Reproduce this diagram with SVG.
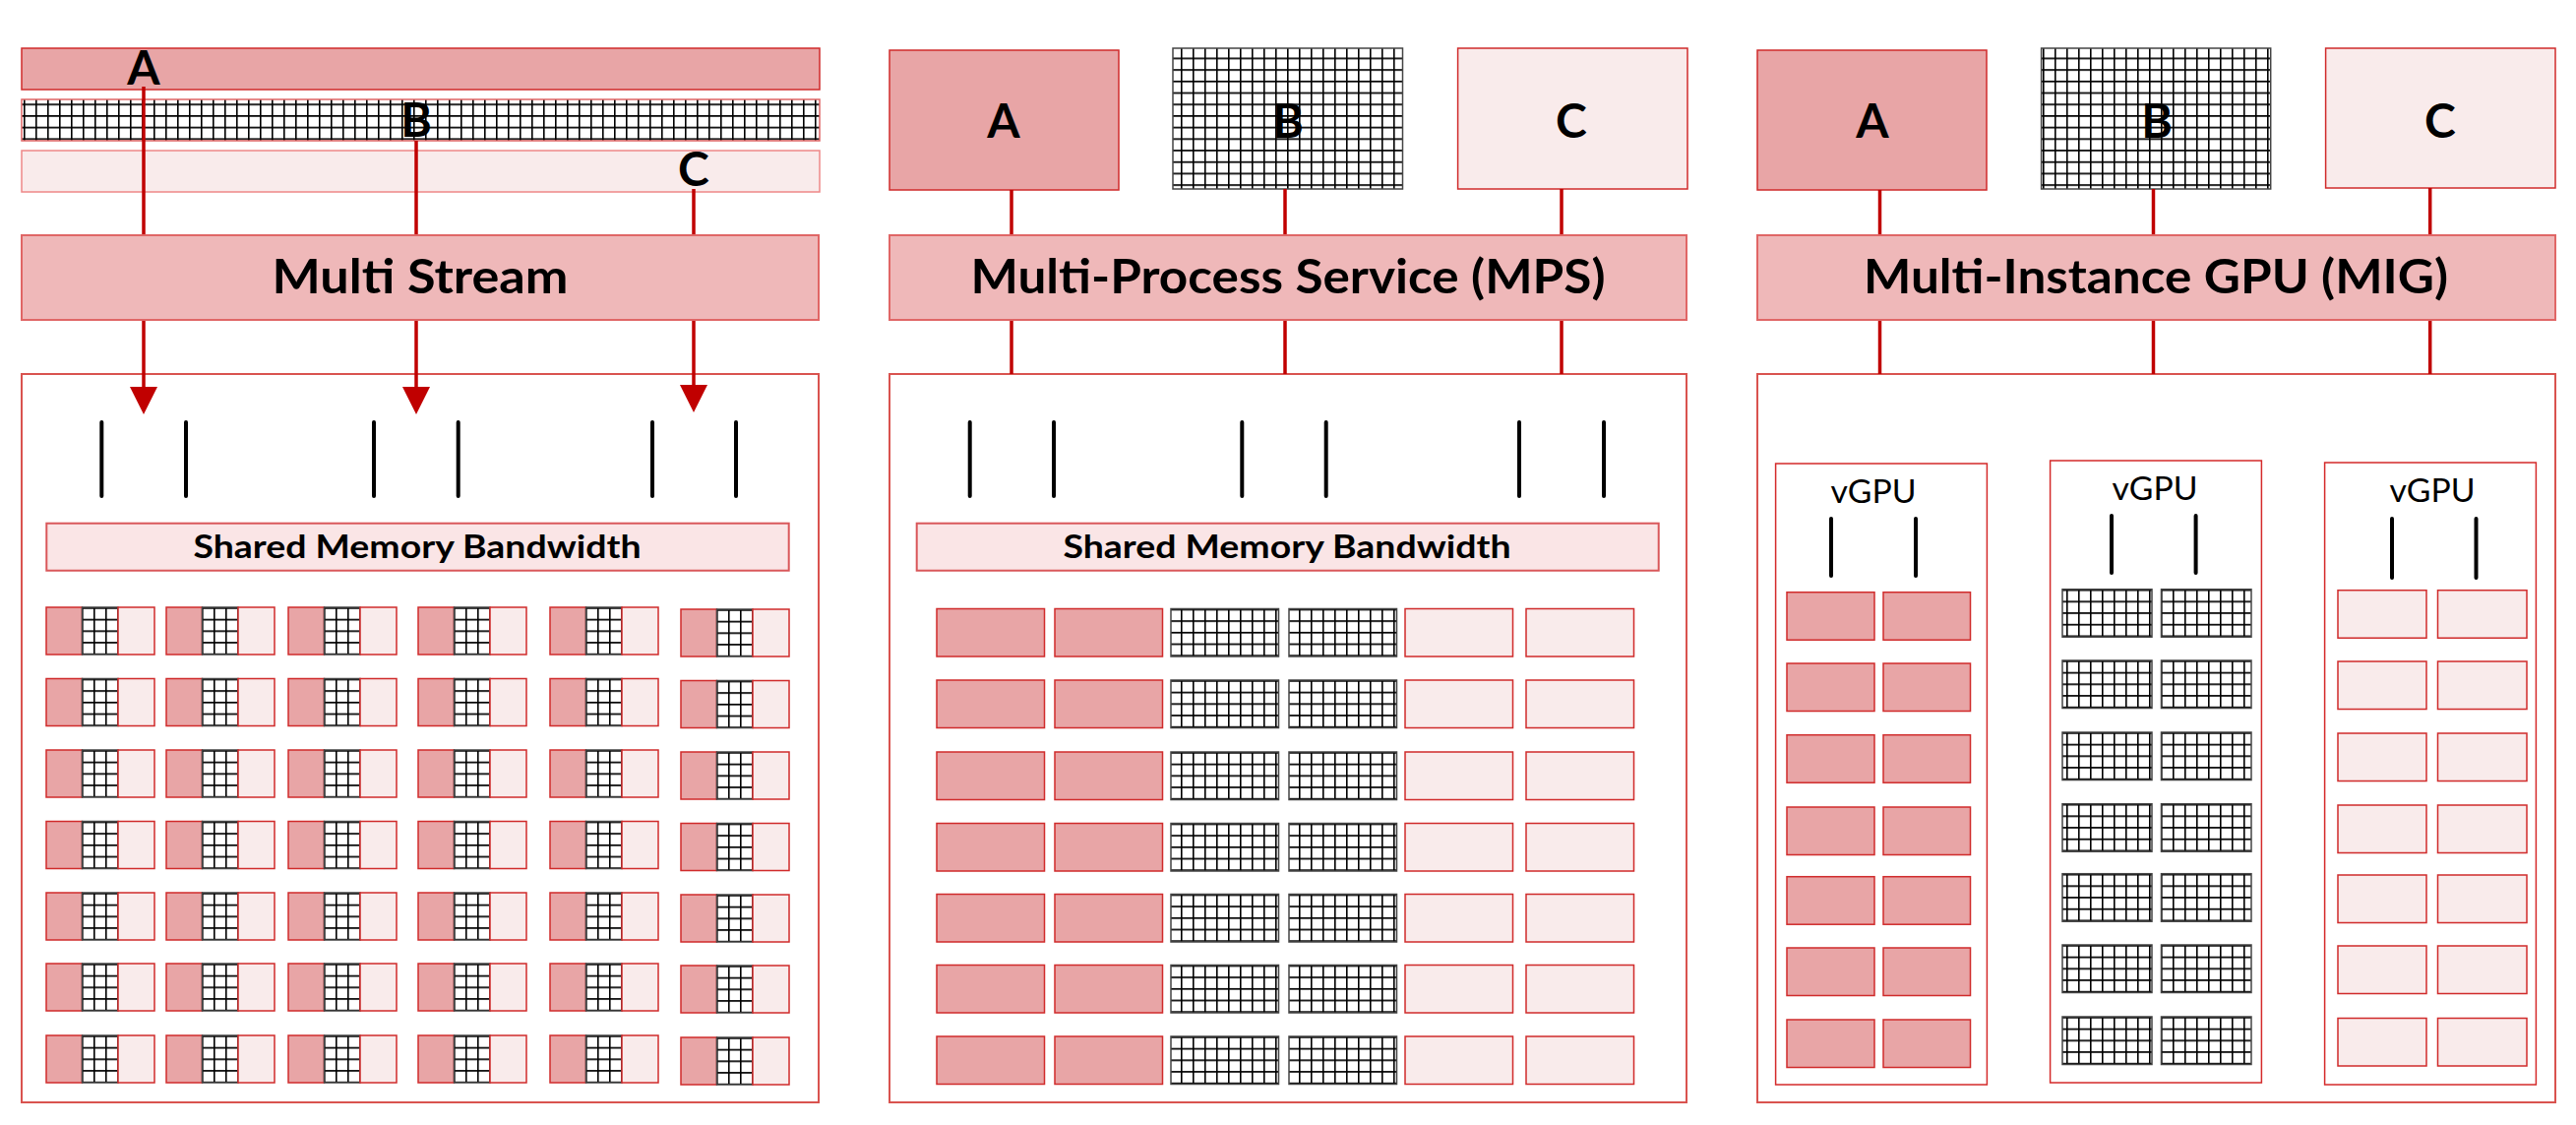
<svg xmlns="http://www.w3.org/2000/svg" width="2618" height="1143" viewBox="0 0 2618 1143">
<style>
.fa{fill:#e8a5a6;stroke:#d02b2b;stroke-width:1.5}
.fc{fill:#f9ebeb;stroke:#d02b2b;stroke-width:1.5}
.fb{fill:url(#grid);stroke:#444;stroke-width:1.5}
.fbr{fill:url(#grid);stroke:#e06666;stroke-width:1.5}
.hdr{fill:#efb8b9;stroke:#e06666;stroke-width:2}
.panel{fill:#fff;stroke:#d9534f;stroke-width:2}
.shm{fill:#fae5e6;stroke:#d9575a;stroke-width:2}
.vg{fill:#fff;stroke:#d42a2a;stroke-width:1.5}
.conn{stroke:#c00000;stroke-width:3.5;fill:none}
.bar{stroke:#000;stroke-width:4;stroke-linecap:round}
.big{font-family:Lato,"Liberation Sans",sans-serif;font-weight:bold;font-size:48px;text-anchor:middle;fill:#000}
.shmt{font-family:Lato,"Liberation Sans",sans-serif;font-weight:bold;font-size:32px;text-anchor:middle;fill:#000}
.vgt{font-family:Lato,"Liberation Sans",sans-serif;font-size:32px;text-anchor:middle;fill:#000}
</style>
<defs>
<pattern id="grid" patternUnits="userSpaceOnUse" width="12" height="11.7">
<rect width="12" height="11.7" fill="#fff"/>
<path d="M0.8,0 V11.7 M0,0.8 H12" stroke="#000" stroke-width="1.6"/>
</pattern>
<marker id="arr" markerUnits="userSpaceOnUse" markerWidth="28" markerHeight="28" refX="14" refY="14" orient="auto">
<path d="M0,0 L28,14 L0,28 z" fill="#c00000"/>
</marker>
<g id="msCell">
<rect x="0" y="0" width="36.5" height="48" class="fa"/>
<rect x="36.5" y="0" width="36.5" height="48" class="fb"/>
<rect x="73" y="0" width="37" height="48" class="fc"/>
</g>
<g id="msRow">
<use href="#msCell" x="47" y="0"/>
<use href="#msCell" x="169" y="0"/>
<use href="#msCell" x="293" y="0"/>
<use href="#msCell" x="425" y="0"/>
<use href="#msCell" x="559" y="0"/>
<use href="#msCell" x="692" y="2"/>
</g>
<g id="mpsRow">
<rect x="952" y="0" width="109.5" height="48.5" class="fa"/>
<rect x="1072" y="0" width="109.5" height="48.5" class="fa"/>
<rect x="1190" y="0" width="109.5" height="48.5" class="fb"/>
<rect x="1310" y="0" width="109.5" height="48.5" class="fb"/>
<rect x="1428" y="0" width="109.5" height="48.5" class="fc"/>
<rect x="1551" y="0" width="109.5" height="48.5" class="fc"/>
</g>
<g id="migRowA">
<rect x="1816" y="0" width="89" height="48.5" class="fa"/>
<rect x="1914" y="0" width="88.5" height="48.5" class="fa"/>
</g>
<g id="migRowB">
<rect x="2096" y="0" width="91" height="48.5" class="fb"/>
<rect x="2196.5" y="0" width="91.5" height="48.5" class="fb"/>
</g>
<g id="migRowC">
<rect x="2376" y="0" width="90" height="48.5" class="fc"/>
<rect x="2477.5" y="0" width="90.5" height="48.5" class="fc"/>
</g>
</defs>
<rect width="2618" height="1143" fill="#fff"/>

<!-- Panel 1: Multi Stream -->
<g id="ms-streamA"><rect x="22" y="49" width="811" height="42" class="fa"/></g>
<g id="ms-streamB"><rect x="22" y="101" width="811" height="42" class="fbr"/></g>
<g id="ms-streamC"><rect x="22" y="153" width="811" height="42" class="fc" style="stroke:#e88"/></g>
<g id="ms-gpu">
<rect x="22" y="380" width="810" height="740" class="panel"/>
<line x1="103.3" y1="429" x2="103.3" y2="504" class="bar"/>
<line x1="189" y1="429" x2="189" y2="504" class="bar"/>
<line x1="380" y1="429" x2="380" y2="504" class="bar"/>
<line x1="465.7" y1="429" x2="465.7" y2="504" class="bar"/>
<line x1="663" y1="429" x2="663" y2="504" class="bar"/>
<line x1="748" y1="429" x2="748" y2="504" class="bar"/>
</g>
<g id="ms-shm">
<rect x="47.3" y="531.7" width="754.4" height="48" class="shm"/>
<text x="424" y="566.7" class="shmt" textLength="455" lengthAdjust="spacingAndGlyphs">Shared Memory Bandwidth</text>
</g>
<g id="ms-cells">
<use href="#msRow" y="617"/>
<use href="#msRow" y="689.5"/>
<use href="#msRow" y="762"/>
<use href="#msRow" y="834.5"/>
<use href="#msRow" y="907"/>
<use href="#msRow" y="979"/>
<use href="#msRow" y="1052"/>
</g>

<!-- Panel 2: MPS -->
<g id="mps-A"><rect x="904" y="51" width="233" height="142" class="fa"/><text x="1020" y="140" class="big">A</text></g>
<g id="mps-B"><rect x="1192" y="49" width="233.5" height="143" class="fb"/><text x="1309" y="140" class="big">B</text></g>
<g id="mps-C"><rect x="1481.6" y="49" width="233.4" height="143" class="fc"/><text x="1597" y="140" class="big">C</text></g>
<g id="mps-gpu">
<rect x="904" y="380" width="810" height="740" class="panel"/>
<line x1="985.7" y1="429" x2="985.7" y2="504" class="bar"/>
<line x1="1071" y1="429" x2="1071" y2="504" class="bar"/>
<line x1="1262.3" y1="429" x2="1262.3" y2="504" class="bar"/>
<line x1="1347.7" y1="429" x2="1347.7" y2="504" class="bar"/>
<line x1="1544" y1="429" x2="1544" y2="504" class="bar"/>
<line x1="1630" y1="429" x2="1630" y2="504" class="bar"/>
</g>
<g id="mps-shm">
<rect x="931.7" y="531.7" width="754" height="48" class="shm"/>
<text x="1308" y="566.7" class="shmt" textLength="455" lengthAdjust="spacingAndGlyphs">Shared Memory Bandwidth</text>
</g>
<g id="mps-cells">
<use href="#mpsRow" y="618.5"/>
<use href="#mpsRow" y="691"/>
<use href="#mpsRow" y="764"/>
<use href="#mpsRow" y="836.5"/>
<use href="#mpsRow" y="908.5"/>
<use href="#mpsRow" y="980.5"/>
<use href="#mpsRow" y="1053"/>
</g>

<!-- Panel 3: MIG -->
<g id="mig-A"><rect x="1786" y="51" width="233" height="142" class="fa"/><text x="1903" y="140" class="big">A</text></g>
<g id="mig-B"><rect x="2074.6" y="49" width="233.1" height="143" class="fb"/><text x="2192" y="140" class="big">B</text></g>
<g id="mig-C"><rect x="2363.6" y="49" width="233.4" height="142" class="fc"/><text x="2480" y="140" class="big">C</text></g>
<g id="mig-gpu"><rect x="1786" y="380" width="811" height="740" class="panel"/></g>
<g id="mig-vgpu1">
<rect x="1804.6" y="471" width="214.8" height="631" class="vg"/>
<text x="1904" y="511" class="vgt" textLength="87" lengthAdjust="spacingAndGlyphs">vGPU</text>
<line x1="1861" y1="527" x2="1861" y2="585" class="bar"/>
<line x1="1947" y1="527" x2="1947" y2="585" class="bar"/>
<use href="#migRowA" y="601.7"/>
<use href="#migRowA" y="674"/>
<use href="#migRowA" y="746.7"/>
<use href="#migRowA" y="820"/>
<use href="#migRowA" y="890.7"/>
<use href="#migRowA" y="963"/>
<use href="#migRowA" y="1036"/>
</g>
<g id="mig-vgpu2">
<rect x="2083.6" y="468" width="214.8" height="632" class="vg"/>
<text x="2190" y="508" class="vgt" textLength="87" lengthAdjust="spacingAndGlyphs">vGPU</text>
<line x1="2146" y1="524" x2="2146" y2="582" class="bar"/>
<line x1="2231.6" y1="524" x2="2231.6" y2="582" class="bar"/>
<use href="#migRowB" y="598.7"/>
<use href="#migRowB" y="671"/>
<use href="#migRowB" y="744"/>
<use href="#migRowB" y="816.7"/>
<use href="#migRowB" y="887.7"/>
<use href="#migRowB" y="960"/>
<use href="#migRowB" y="1033"/>
</g>
<g id="mig-vgpu3">
<rect x="2362.6" y="470" width="214.8" height="632" class="vg"/>
<text x="2472" y="510" class="vgt" textLength="87" lengthAdjust="spacingAndGlyphs">vGPU</text>
<line x1="2431" y1="527" x2="2431" y2="587" class="bar"/>
<line x1="2516.5" y1="527" x2="2516.5" y2="587" class="bar"/>
<use href="#migRowC" y="599.7"/>
<use href="#migRowC" y="672"/>
<use href="#migRowC" y="745"/>
<use href="#migRowC" y="818"/>
<use href="#migRowC" y="889"/>
<use href="#migRowC" y="961"/>
<use href="#migRowC" y="1034.5"/>
</g>

<!-- Connectors -->
<g id="connectors">
<line x1="146" y1="88" x2="146" y2="239" class="conn"/>
<line x1="423" y1="143" x2="423" y2="239" class="conn"/>
<line x1="705" y1="192" x2="705" y2="239" class="conn"/>
<line x1="146" y1="325" x2="146" y2="407" class="conn" marker-end="url(#arr)"/>
<line x1="423" y1="325" x2="423" y2="407" class="conn" marker-end="url(#arr)"/>
<line x1="705" y1="325" x2="705" y2="405" class="conn" marker-end="url(#arr)"/>
<line x1="1028" y1="193" x2="1028" y2="239" class="conn"/>
<line x1="1306" y1="192" x2="1306" y2="239" class="conn"/>
<line x1="1587" y1="192" x2="1587" y2="239" class="conn"/>
<line x1="1028" y1="325" x2="1028" y2="380" class="conn"/>
<line x1="1306" y1="325" x2="1306" y2="380" class="conn"/>
<line x1="1587" y1="325" x2="1587" y2="380" class="conn"/>
<line x1="1910.5" y1="193" x2="1910.5" y2="239" class="conn"/>
<line x1="2188.5" y1="192" x2="2188.5" y2="239" class="conn"/>
<line x1="2469.7" y1="191" x2="2469.7" y2="239" class="conn"/>
<line x1="1910.5" y1="325" x2="1910.5" y2="380" class="conn"/>
<line x1="2188.5" y1="325" x2="2188.5" y2="380" class="conn"/>
<line x1="2469.7" y1="325" x2="2469.7" y2="380" class="conn"/>
</g>

<!-- Labels on stream bars (drawn above connectors) -->
<g id="ms-labels">
<text x="146" y="86" class="big">A</text>
<text x="423" y="139" class="big">B</text>
<text x="705" y="189" class="big">C</text>
</g>

<!-- Header nodes -->
<g id="ms-header"><rect x="22" y="239" width="810" height="86" class="hdr"/><text x="427" y="298" class="big" textLength="301" lengthAdjust="spacingAndGlyphs">Multi Stream</text></g>
<g id="mps-header"><rect x="904" y="239" width="810" height="86" class="hdr"/><text x="1309" y="298" class="big" textLength="645" lengthAdjust="spacingAndGlyphs">Multi-Process Service (MPS)</text></g>
<g id="mig-header"><rect x="1786" y="239" width="811" height="86" class="hdr"/><text x="2191" y="298" class="big" textLength="594" lengthAdjust="spacingAndGlyphs">Multi-Instance GPU (MIG)</text></g>
</svg>
